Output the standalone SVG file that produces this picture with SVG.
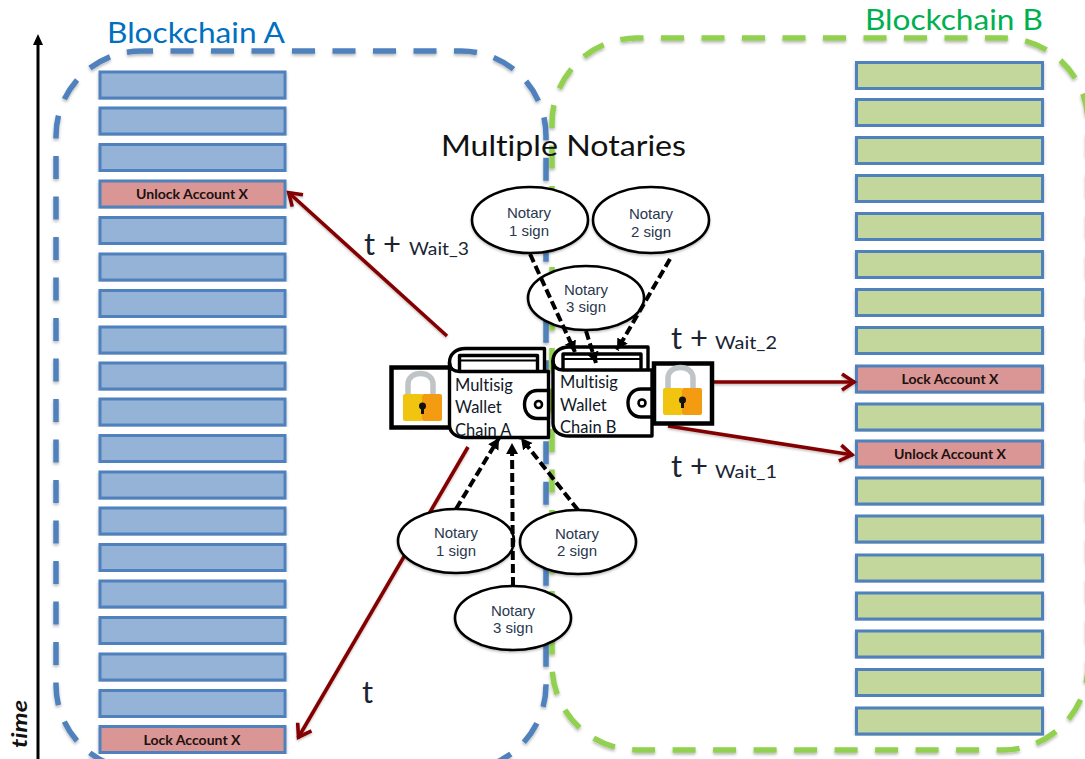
<svg xmlns="http://www.w3.org/2000/svg" width="1085" height="759" viewBox="0 0 1085 759">
<style>
text{font-family:"Lato","Open Sans","Liberation Sans",sans-serif;fill:#1b2433;font-variant-ligatures:none}
.row{stroke:#4f81bd;stroke-width:3;filter:url(#sh)}
.a{fill:#95b3d7}.b{fill:#c3d69b}.r{fill:#d99694}
.rl{font-weight:700;font-size:12.5px;text-anchor:middle;fill:#201010}
.zone{fill:none;stroke-width:5.5;stroke-dasharray:23 17.5;filter:url(#sh)}
.el{fill:#fff;stroke:#000;stroke-width:2.6;filter:url(#sh2)}
.nt{font-family:"Liberation Sans",Arial,sans-serif;font-size:15px;text-anchor:middle;fill:#2a3850}
.dash{stroke:#000;stroke-width:4;stroke-dasharray:9 4;fill:none;marker-end:url(#ah)}
.red{stroke:#840000;stroke-width:3.6;fill:none;marker-end:url(#rh)}
.w{fill:#fff;stroke:#000;stroke-width:3.4;stroke-linejoin:round}
.wt{font-size:16.5px;fill:#101828}
.big{font-size:31px}.sm{font-size:18px}
.lb{fill:#fff;stroke:#000;stroke-width:4.5}
</style>
<defs>
<filter id="sh" x="-5%" y="-5%" width="110%" height="110%"><feDropShadow dx="0" dy="2" stdDeviation="1.4" flood-color="#000" flood-opacity=".28"/></filter>
<filter id="sh2" x="-10%" y="-10%" width="120%" height="120%"><feDropShadow dx="0" dy="1.5" stdDeviation="1" flood-color="#000" flood-opacity=".25"/></filter>
<marker id="ah" markerUnits="userSpaceOnUse" markerWidth="14" markerHeight="14" refX="11" refY="6" orient="auto"><path d="M0 0L11 6L0 12z" fill="#000"/></marker>
<marker id="rh" markerUnits="userSpaceOnUse" markerWidth="20" markerHeight="22" refX="16" refY="10" orient="auto"><path d="M3 2L15 10L3 18" fill="none" stroke="#840000" stroke-width="3.6"/></marker>
<g id="wal">
<path class="w" d="M16 0H95V24H10C4 24 0 20 0 14C0 6 6 0 16 0z"/>
<path class="w" d="M10 7H88V24H10z"/>
<path d="M10 12H88" stroke="#000" stroke-width="2"/>
<path class="w" d="M0 14C0 20 4 23 10 23H99V89H16C6 89 0 84 0 76z"/>
<path class="w" d="M99 42H88C80 42 75 48 75 56C75 64 80 70 88 70H99z"/>
<circle cx="89" cy="56" r="3.5" fill="#fff" stroke="#000" stroke-width="2.6"/>
</g>
<g id="pad">
<path d="M17 27V17C17 3 42 3 42 17V27" fill="none" stroke="#bfc4c6" stroke-width="5.5"/>
<rect x="12" y="27" width="20" height="27" rx="2" fill="#f1c40f"/>
<rect x="31" y="27" width="20" height="27" rx="2" fill="#f39c12"/>
<circle cx="31.500" cy="39" r="3.500" fill="#111"/><path d="M30 40H33V47H30z" fill="#111"/>
</g>
</defs>
<rect width="1085" height="759" fill="#fff"/>

<g id="time-axis">
<path d="M38 759V44" stroke="#000" stroke-width="3" fill="none"/>
<path d="M38 34L43 45H33z" fill="#000"/>
<text transform="translate(27 748) rotate(-90)" font-size="21" font-weight="700" font-style="italic" style="fill:#111" textLength="48" lengthAdjust="spacingAndGlyphs">time</text>
</g>

<g id="zones">
<rect id="zone-a" class="zone" x="56" y="51" width="490" height="719" rx="85" ry="85" stroke="#4f81bd" stroke-dashoffset="11"/>
<rect id="zone-b" class="zone" x="552" y="38" width="536" height="712" rx="85" ry="85" stroke="#92d050" stroke-dashoffset="16.500"/>
</g>
<text id="title-a" x="107" y="43" font-size="29" style="fill:#0070c0" textLength="178" lengthAdjust="spacingAndGlyphs">Blockchain A</text>
<text id="title-b" x="865" y="30" font-size="29" style="fill:#00b050" textLength="178" lengthAdjust="spacingAndGlyphs">Blockchain B</text>

<g id="chain-a">
<g id="a1"><rect class="row a" x="100" y="72" width="185" height="26"/></g>
<g id="a2"><rect class="row a" x="100" y="108" width="185" height="26"/></g>
<g id="a3"><rect class="row a" x="100" y="144.500" width="185" height="26"/></g>
<g id="a4"><rect class="row r" x="100" y="181" width="185" height="26"/><text class="rl" x="192" y="199" textLength="112" lengthAdjust="spacingAndGlyphs">Unlock Account X</text></g>
<g id="a5"><rect class="row a" x="100" y="217.500" width="185" height="26"/></g>
<g id="a6"><rect class="row a" x="100" y="254" width="185" height="26"/></g>
<g id="a7"><rect class="row a" x="100" y="290.500" width="185" height="26"/></g>
<g id="a8"><rect class="row a" x="100" y="327" width="185" height="26"/></g>
<g id="a9"><rect class="row a" x="100" y="363" width="185" height="26"/></g>
<g id="a10"><rect class="row a" x="100" y="399" width="185" height="26"/></g>
<g id="a11"><rect class="row a" x="100" y="435.500" width="185" height="26"/></g>
<g id="a12"><rect class="row a" x="100" y="472" width="185" height="26"/></g>
<g id="a13"><rect class="row a" x="100" y="508" width="185" height="26"/></g>
<g id="a14"><rect class="row a" x="100" y="544.500" width="185" height="26"/></g>
<g id="a15"><rect class="row a" x="100" y="581" width="185" height="26"/></g>
<g id="a16"><rect class="row a" x="100" y="617.500" width="185" height="26"/></g>
<g id="a17"><rect class="row a" x="100" y="654" width="185" height="26"/></g>
<g id="a18"><rect class="row a" x="100" y="690.500" width="185" height="26"/></g>
<g id="a19"><rect class="row r" x="100" y="726.500" width="185" height="26"/><text class="rl" x="192" y="745" textLength="97" lengthAdjust="spacingAndGlyphs">Lock Account X</text></g>
</g>

<g id="chain-b">
<g id="b1"><rect class="row b" x="856.500" y="62.500" width="186" height="26"/></g>
<g id="b2"><rect class="row b" x="856.500" y="99.500" width="186" height="26"/></g>
<g id="b3"><rect class="row b" x="856.500" y="137.500" width="186" height="26"/></g>
<g id="b4"><rect class="row b" x="856.500" y="175.500" width="186" height="26"/></g>
<g id="b5"><rect class="row b" x="856.500" y="213.500" width="186" height="26"/></g>
<g id="b6"><rect class="row b" x="856.500" y="251.500" width="186" height="26"/></g>
<g id="b7"><rect class="row b" x="856.500" y="289.500" width="186" height="26"/></g>
<g id="b8"><rect class="row b" x="856.500" y="327.500" width="186" height="26"/></g>
<g id="b9"><rect class="row r" x="856.500" y="366" width="186" height="26"/><text class="rl" x="950" y="384" textLength="97" lengthAdjust="spacingAndGlyphs">Lock Account X</text></g>
<g id="b10"><rect class="row b" x="856.500" y="404" width="186" height="26"/></g>
<g id="b11"><rect class="row r" x="856.500" y="441" width="186" height="26"/><text class="rl" x="950" y="459" textLength="112" lengthAdjust="spacingAndGlyphs">Unlock Account X</text></g>
<g id="b12"><rect class="row b" x="856.500" y="478" width="186" height="26"/></g>
<g id="b13"><rect class="row b" x="856.500" y="516" width="186" height="26"/></g>
<g id="b14"><rect class="row b" x="856.500" y="555" width="186" height="26"/></g>
<g id="b15"><rect class="row b" x="856.500" y="593" width="186" height="26"/></g>
<g id="b16"><rect class="row b" x="856.500" y="631" width="186" height="26"/></g>
<g id="b17"><rect class="row b" x="856.500" y="669.500" width="186" height="26"/></g>
<g id="b18"><rect class="row b" x="856.500" y="708" width="186" height="26"/></g>
</g>

<text id="heading" x="441" y="156" font-size="29" style="fill:#111" textLength="245" lengthAdjust="spacingAndGlyphs">Multiple Notaries</text>

<g id="connectors-red" filter="url(#sh2)">
<path class="red" d="M447 336L288 192"/>
<path class="red" d="M468 447L298 738"/>
<path class="red" d="M714 382H855"/>
<path class="red" d="M668 426L853 455"/>
</g>

<g id="n3top"><ellipse class="el" cx="586" cy="298" rx="58" ry="32"/><text class="nt" x="586" y="295">Notary</text><text class="nt" x="586" y="312">3 sign</text></g>
<g id="n1top"><ellipse class="el" cx="530" cy="220" rx="58" ry="33"/><text class="nt" x="529" y="218">Notary</text><text class="nt" x="529" y="236">1 sign</text></g>
<g id="n2top"><ellipse class="el" cx="651" cy="220" rx="58" ry="33"/><text class="nt" x="651" y="219">Notary</text><text class="nt" x="651" y="237">2 sign</text></g>

<g id="lock-a"><rect class="lb" x="391.500" y="367.500" width="64" height="60"/><use href="#pad" x="391" y="367"/></g>
<g id="lock-b"><rect class="lb" x="654" y="363.500" width="58" height="60"/><use href="#pad" x="651" y="361"/></g>
<g id="wallet-a"><use href="#wal" x="449.500" y="348.500"/><text class="wt" x="455" y="391">Multisig</text><text class="wt" x="455" y="413">Wallet</text><text class="wt" x="455" y="436">Chain A</text></g>
<g id="wallet-b"><use href="#wal" x="553" y="347"/><text class="wt" x="560" y="388">Multisig</text><text class="wt" x="560" y="411">Wallet</text><text class="wt" x="560" y="433">Chain B</text></g>

<g id="n3bot"><ellipse class="el" cx="513" cy="618" rx="58" ry="32"/><text class="nt" x="513" y="616">Notary</text><text class="nt" x="513" y="633">3 sign</text></g>
<g id="n1bot"><ellipse class="el" cx="456" cy="541" rx="58" ry="32"/><text class="nt" x="456" y="538">Notary</text><text class="nt" x="456" y="556">1 sign</text></g>
<g id="n2bot"><ellipse class="el" cx="578" cy="542" rx="58" ry="32"/><text class="nt" x="577" y="539">Notary</text><text class="nt" x="577" y="556">2 sign</text></g>

<g id="connectors-dashed">
<path class="dash" d="M530 254L575 352"/>
<path class="dash" d="M670 259L617 350"/>
<path class="dash" d="M586 331L596 363"/>
<path class="dash" d="M456 509L499 438"/>
<path class="dash" d="M578 510L521 438"/>
<path class="dash" d="M513 586L512 443"/>
</g>

<g id="labels">
<text class="big" x="364" y="255">t +</text><text class="sm" x="409" y="255" textLength="60" lengthAdjust="spacingAndGlyphs">Wait_3</text>
<text class="big" x="671" y="349">t +</text><text class="sm" x="715" y="349" textLength="62" lengthAdjust="spacingAndGlyphs">Wait_2</text>
<text class="big" x="671" y="477">t +</text><text class="sm" x="715" y="478" textLength="62" lengthAdjust="spacingAndGlyphs">Wait_1</text>
<text class="big" x="362" y="703">t</text>
</g>
</svg>
